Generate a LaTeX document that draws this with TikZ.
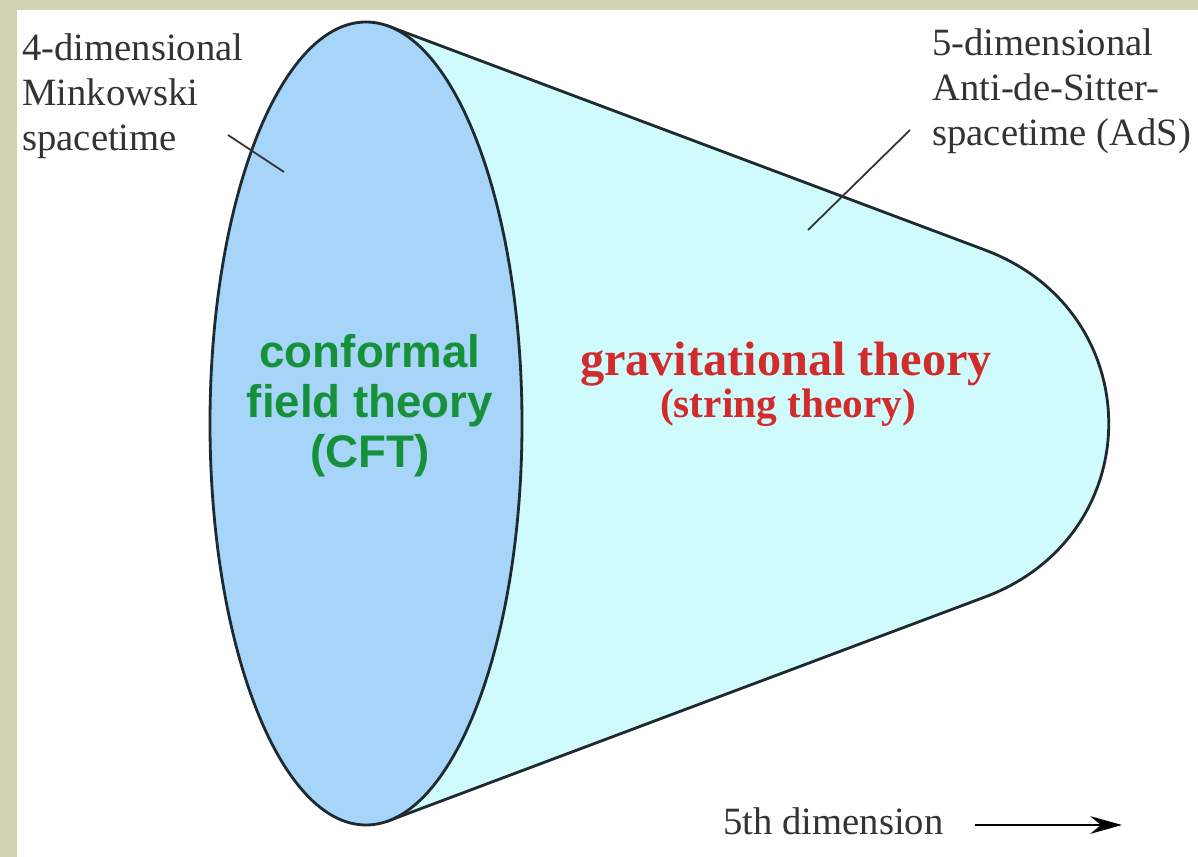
\documentclass[tikz,border=0pt]{standalone}
\usepackage{fontspec}
\setmainfont{Liberation Serif}
\setsansfont{Liberation Sans}
\usepackage{tikz}
\usepackage{xcolor}
\usetikzlibrary{positioning, arrows.meta}
\definecolor{cLinen}   {HTML}{D3D3B4}
\definecolor{cBoundary}{HTML}{A7D4F9}
\definecolor{cBulk}    {HTML}{CFFBFD}
\definecolor{cCFT}     {HTML}{17903A}
\definecolor{cGrav}    {HTML}{D22B2B}
\definecolor{cEdge}    {HTML}{1E2A30}
\definecolor{cMuted}   {HTML}{333333}

\begin{document}
\begin{tikzpicture}[x=0.02cm, y=-0.02cm,
    annot/.style={font=\fontsize{22}{25.6}\selectfont, text=cMuted,
                  inner sep=0pt, align=left},
    leader/.style={draw=cMuted, line width=1pt},
    outline/.style={draw=cEdge, line width=1.6pt}]
  % Linen frame and white sheet
  \fill[cLinen] (0,0) rectangle (1198,857);
  \fill[white] (17,10) rectangle (1198,857);
  \useasboundingbox (0,0) rectangle (1198,857);
  % Bulk (AdS) cone with rounded cap
  \filldraw[outline, fill=cBulk] (388.5,26.2) -- (985,250)
      .. controls (1150,312) and (1150,535) .. (985,597)
      -- (388.5,820.8) -- cycle;
  % Boundary disk (Minkowski)
  \filldraw[outline, fill=cBoundary] (366,423.5) ellipse [x radius=156, y radius=401.5];
  % Labels
  \node[annot, anchor=north west] (mink) at (22,33)
       {4-dimensional\\Minkowski\\spacetime};
  \node[annot, anchor=north west] (ads) at (932,28)
       {5-dimensional\\Anti-de-Sitter-\\spacetime (AdS)};
  \coordinate (mink-from) at (228,135);
  \coordinate (mink-to)   at (284,172);
  \coordinate (ads-from)  at (910,130);
  \coordinate (ads-to)    at (808,230);
  \draw[leader] (mink-from) -- (mink-to);
  \draw[leader] (ads-from) -- (ads-to);
  % Theory names
  \node[font=\sffamily\bfseries\fontsize{26}{28.5}\selectfont, text=cCFT,
        align=center, inner sep=0pt, anchor=north] (cft) at (370,334)
       {conformal\\field theory\\(CFT)};
  \node[font=\bfseries\fontsize{27.5}{32}\selectfont, text=cGrav,
        inner sep=0pt, anchor=base] (grav) at (786,376) {gravitational theory};
  \node[font=\bfseries\fontsize{23.5}{27}\selectfont, text=cGrav,
        inner sep=0pt, anchor=base] (strth) at (788,418) {(string theory)};
  % Fifth dimension axis
  \node[annot, anchor=base west] (dimlabel) at (723,835) {5th dimension};
  \coordinate (axis-from) at (975,825);
  \coordinate (axis-to)   at (1122,825);
  \draw[draw=black, line width=1.3pt,
        -{Stealth[length=18pt, width=10pt, inset=6pt]}] (axis-from) -- (axis-to);
\end{tikzpicture}
\end{document}
